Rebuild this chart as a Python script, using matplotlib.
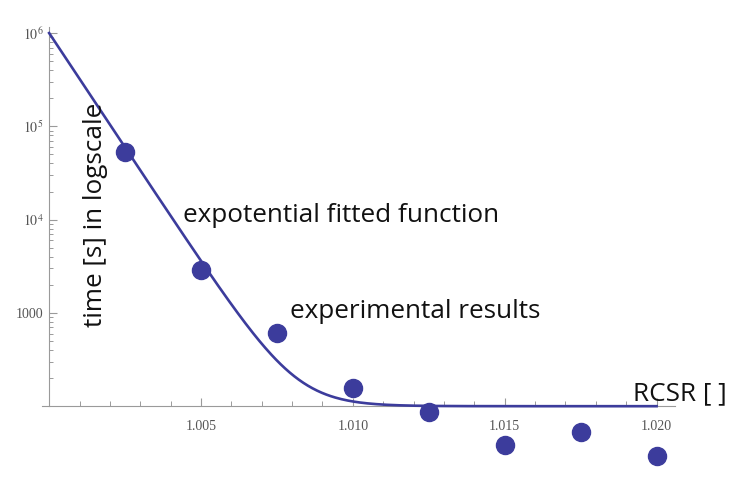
import numpy as np
import matplotlib.pyplot as plt
from matplotlib.ticker import FixedLocator, NullFormatter

plt.rcParams['mathtext.fontset'] = 'stix'

# measured points (RCSR, time in s)
rcsr = [1.0025, 1.005, 1.0075, 1.010, 1.0125, 1.015, 1.0175, 1.020]
times = [53000, 2900, 610, 157, 87, 38, 53, 29]

# fitted exponential: t = base + amp * exp(-rate * (rcsr - 1))
fit_amp = 1.0e6
fit_rate = 1130.0
fit_base = 100.0

blue = '#3c3c9c'
grey = '#9a9a9a'

fig = plt.figure(figsize=(7.34, 4.86), dpi=100)
ax = fig.add_axes([30 / 734, 1 - 470 / 486, 660 / 734, 445 / 486])
ax.set_yscale('log')
ax.set_xlim(0.99937, 1.0211)
ax.set_ylim(20.7, 1.22e6)

xs = np.linspace(1.0, 1.020, 400)
ax.plot(xs, fit_base + fit_amp * np.exp(-fit_rate * (xs - 1.0)), color=blue, lw=1.9, zorder=3)
ax.plot(rcsr, times, 'o', color=blue, ms=13, zorder=4)

# Mathematica-like axes crossing at (1.000, 100)
for s in ['top', 'right']:
    ax.spines[s].set_visible(False)
ax.spines['left'].set_position(('data', 1.0))
ax.spines['bottom'].set_position(('data', 100))
ax.spines['left'].set_bounds(100, 1.15e6)
ax.spines['bottom'].set_bounds(0.99975, 1.0206)
for s in ['left', 'bottom']:
    ax.spines[s].set_color(grey)
    ax.spines[s].set_linewidth(0.8)

ax.xaxis.set_major_locator(FixedLocator([1.005, 1.010, 1.015, 1.020]))
ax.xaxis.set_minor_locator(FixedLocator([1.000 + 0.001 * i for i in range(1, 21) if i % 5]))
ax.set_xticklabels(['1.005', '1.010', '1.015', '1.020'])
ax.tick_params(axis='x', which='major', direction='in', length=6, width=0.8, color=grey,
               labelsize=10, labelcolor='#555555', pad=10)
ax.tick_params(axis='x', which='minor', direction='in', length=3.5, width=0.7, color=grey)

ax.yaxis.set_major_locator(FixedLocator([1e3, 1e4, 1e5, 1e6]))
ax.yaxis.set_minor_locator(FixedLocator([m * 10.0 ** d for d in range(2, 6) for m in range(2, 10)]))
ax.yaxis.set_minor_formatter(NullFormatter())
ax.set_yticklabels(['1000', '$10^{4}$', '$10^{5}$', '$10^{6}$'])
ax.tick_params(axis='y', which='major', direction='in', length=6, width=0.8, color=grey,
               labelsize=10, labelcolor='#555555', pad=4)
ax.tick_params(axis='y', which='minor', direction='in', length=3, width=0.7, color=grey)
for lab in ax.get_xticklabels() + ax.get_yticklabels():
    lab.set_family('Liberation Serif')

txt = dict(family='Open Sans', color='#111111', fontsize=18.8)
fig.text(95 / 734, 1 - 215 / 486, 'time [s] in logscale', rotation=90, ha='center', va='center', **txt)
fig.text(183 / 734, 1 - 222 / 486, 'expotential fitted function', ha='left', va='baseline', **txt)
fig.text(290 / 734, 1 - 318 / 486, 'experimental results', ha='left', va='baseline', **txt)
fig.text(633 / 734, 1 - 400 / 486, 'RCSR [ ]', ha='left', va='baseline', **txt)

fig.savefig('out.png', dpi=100)
